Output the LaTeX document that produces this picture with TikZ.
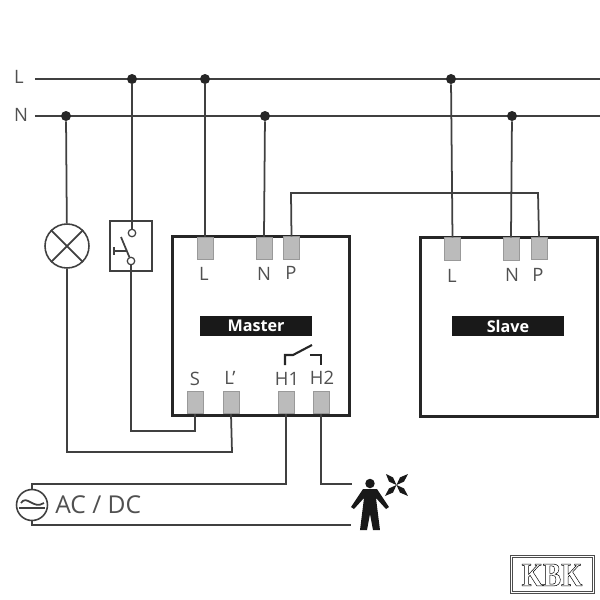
\documentclass[tikz,border=0pt]{standalone}
\usepackage{fontspec}
\setmainfont{Open Sans}
\newfontfamily\logofont{Liberation Serif}
\usetikzlibrary{positioning}
\definecolor{wiregray}{HTML}{404040}
\definecolor{textgray}{HTML}{505050}
\definecolor{pingray}{HTML}{BBBBBB}
\tikzset{
wire/.style={draw=wiregray,line width=1pt},
dev/.style={draw=black!85,line width=1.7pt,rectangle,inner sep=0pt,minimum width=3.56cm,minimum height=3.6cm},
pin/.style={draw=black!40,fill=pingray,line width=0.4pt,rectangle,inner sep=0pt,minimum width=0.32cm,minimum height=0.45cm},
pintext/.style={text=textgray,inner sep=0pt,font=\fontsize{10.5}{12}\selectfont},
tag/.style={fill=black!90,text=white,inner sep=0pt,minimum width=2.24cm,minimum height=0.4cm,font=\fontsize{9.2}{10}\selectfont\bfseries},
junction/.style={circle,fill=black!85,inner sep=0pt,minimum size=0.2cm},
contact/.style={circle,draw=wiregray,fill=white,line width=0.7pt,inner sep=0pt,minimum size=0.15cm},
}
\begin{document}
\begin{tikzpicture}[x=0.02cm,y=-0.02cm]
\useasboundingbox (0,0) rectangle (600,600);
% mains
\node[pintext] (txtL) at (19,77) {L};
\node[pintext] (txtN) at (21,115) {N};
\coordinate (Lleft) at (35,79);
\coordinate (Lright) at (600,79);
\coordinate (Nleft) at (35,116);
\coordinate (Nright) at (600,116);
\draw[wire] (Lleft) -- (Lright);
\draw[wire] (Nleft) -- (Nright);
\node[junction] (j1) at (132,79) {};
\node[junction] (j2) at (205,79) {};
\node[junction] (j3) at (451,79) {};
\node[junction] (j4) at (66,116) {};
\node[junction] (j5) at (265,116) {};
\node[junction] (j6) at (512,116) {};
% devices
\node[dev] (master) at (261,326) {};
\node[dev] (slave) at (509,327) {};
\node[tag] (mastertag) at (256,326) {Master};
\node[tag] (slavetag) at (508,326) {Slave};
\node[pin] (mL) at (205,248.5) {};
\node[pin] (mN) at (264,248.5) {};
\node[pin] (mP) at (291.5,248) {};
\node[pin] (mS) at (195,402.5) {};
\node[pin] (mLp) at (231,402.5) {};
\node[pin] (mHa) at (286,402.5) {};
\node[pin] (mHb) at (321,402.5) {};
\node[pin] (sL) at (452.5,249) {};
\node[pin] (sN) at (511,249) {};
\node[pin] (sP) at (539,248.5) {};
\node[pintext] (tmL) at (204,274) {L};
\node[pintext] (tmN) at (264,274) {N};
\node[pintext] (tmP) at (291,273) {P};
\node[pintext] (tmS) at (195,379) {S};
\node[pintext] (tmLp) at (230,378) {L’};
\node[pintext] (tmHa) at (287,379) {H1};
\node[pintext] (tmHb) at (322,378) {H2};
\node[pintext] (tsL) at (452,276) {L};
\node[pintext] (tsN) at (512,275) {N};
\node[pintext] (tsP) at (538,275) {P};
% lamp and switch
\node[circle,draw=wiregray,line width=0.9pt,inner sep=0pt,minimum size=0.88cm] (lamp) at (67,246) {};
\draw[wire] (lamp.north west) -- (lamp.south east);
\draw[wire] (lamp.north east) -- (lamp.south west);
\node[rectangle,draw=wiregray,line width=0.7pt,inner sep=0pt,minimum width=0.84cm,minimum height=1cm] (swbox) at (131,246) {};
\node[contact] (swtop) at (132,233) {};
\node[contact] (swbot) at (131,261) {};
\coordinate (bladeend) at (121,237);
\coordinate (pusha) at (114,251);
\coordinate (pushb) at (127,251);
\coordinate (pushc) at (114,247);
\coordinate (pushd) at (114,255);
\draw[wire] (swbot) -- (bladeend);
\draw[wire] (pusha) -- (pushb);
\draw[wire] (pushc) -- (pushd);
% wiring
\coordinate (kS) at (195,431);
\coordinate (kLp) at (232,452);
\coordinate (pa) at (291,193);
\coordinate (pb) at (538,193);
\draw[wire] (j1) -- (swtop);
\draw[wire] (j2) -- (mL.north);
\draw[wire] (j5) -- (mN.north);
\draw[wire] (j3) -- (sL.north);
\draw[wire] (j6) -- (sN.north);
\draw[wire] (j4) -- (lamp);
\draw[wire] (mP.north) -- (pa) -- (pb) -- (sP.north);
\draw[wire] (swbot) |- (kS) -- (mS.south);
\draw[wire] (lamp) |- (kLp) -- (mLp.south);
% relay symbol
\coordinate (ra) at (285,365);
\coordinate (rb) at (285,355);
\coordinate (rc) at (293,355);
\coordinate (rd) at (312,345);
\coordinate (re) at (310,355);
\coordinate (rf) at (321,355);
\coordinate (rg) at (321,365);
\draw[line width=1.2pt,draw=black!85] (ra) -- (rb) -- (rc) -- (rd);
\draw[line width=1.2pt,draw=black!85] (re) -- (rf) -- (rg);
% supply
\node[circle,draw=wiregray,line width=0.9pt,inner sep=0pt,minimum size=0.62cm] (supply) at (32,505) {};
\coordinate (suptop) at (32,484);
\coordinate (supbot) at (32,525);
\coordinate (hIa) at (286,484);
\coordinate (hIb) at (321,484);
\coordinate (hIc) at (352,484);
\coordinate (hId) at (351,525);
\coordinate (tila) at (21,503);
\coordinate (tilb) at (44,503);
\coordinate (bara) at (19,508);
\coordinate (barb) at (45,508);
\draw[wire] (supply) -- (suptop) -- (hIa) -- (mHa.south);
\draw[wire] (supply) -- (supbot) -- (hId);
\draw[wire] (mHb.south) -- (hIb) -- (hIc);
\draw[wire] (tila) .. controls (27,494) and (33,510) .. (tilb);
\draw[wire] (bara) -- (barb);
\node[text=textgray,inner sep=0pt,anchor=west,font=\fontsize{14}{16}\selectfont] (acdc) at (55,505) {AC / DC};
% person
\node[circle,fill=black!90,inner sep=0pt,minimum size=0.19cm] (head) at (370,483.5) {};
\fill[black!90] (363,489) -- (351,507) -- (354,509) -- (364,498) -- (360,530) -- (367,530) -- (370,514) -- (373,530) -- (380,530) -- (376,498) -- (386,509) -- (389,507) -- (377,489) -- cycle;
\fill[black!90] (396.5,485) -- (389,481.6) -- (386,474) -- (393,477.4) -- cycle;
\fill[black!90] (396.5,485) -- (400,477.4) -- (408,474) -- (404,481.6) -- cycle;
\fill[black!90] (396.5,485) -- (389,488.4) -- (385,496) -- (393,492.6) -- cycle;
\fill[black!90] (396.5,485) -- (400,492.6) -- (408,496) -- (404,488.4) -- cycle;
% logo
\node[rectangle,draw=black!70,line width=0.4pt,inner sep=0pt,minimum width=1.68cm,minimum height=0.76cm] (logoa) at (552,574) {};
\node[rectangle,draw=black!70,line width=0.4pt,inner sep=0pt,minimum width=1.6cm,minimum height=0.68cm] (logob) at (552,574) {};
\node[inner sep=0pt,font=\logofont\bfseries\fontsize{19}{20}\selectfont] (logotext) at (552,575) {\scalebox{0.82}[1]{\special{pdf:code 1 Tr 0.3 w}KBK\special{pdf:code 0 Tr}}};
\end{tikzpicture}
\end{document}
